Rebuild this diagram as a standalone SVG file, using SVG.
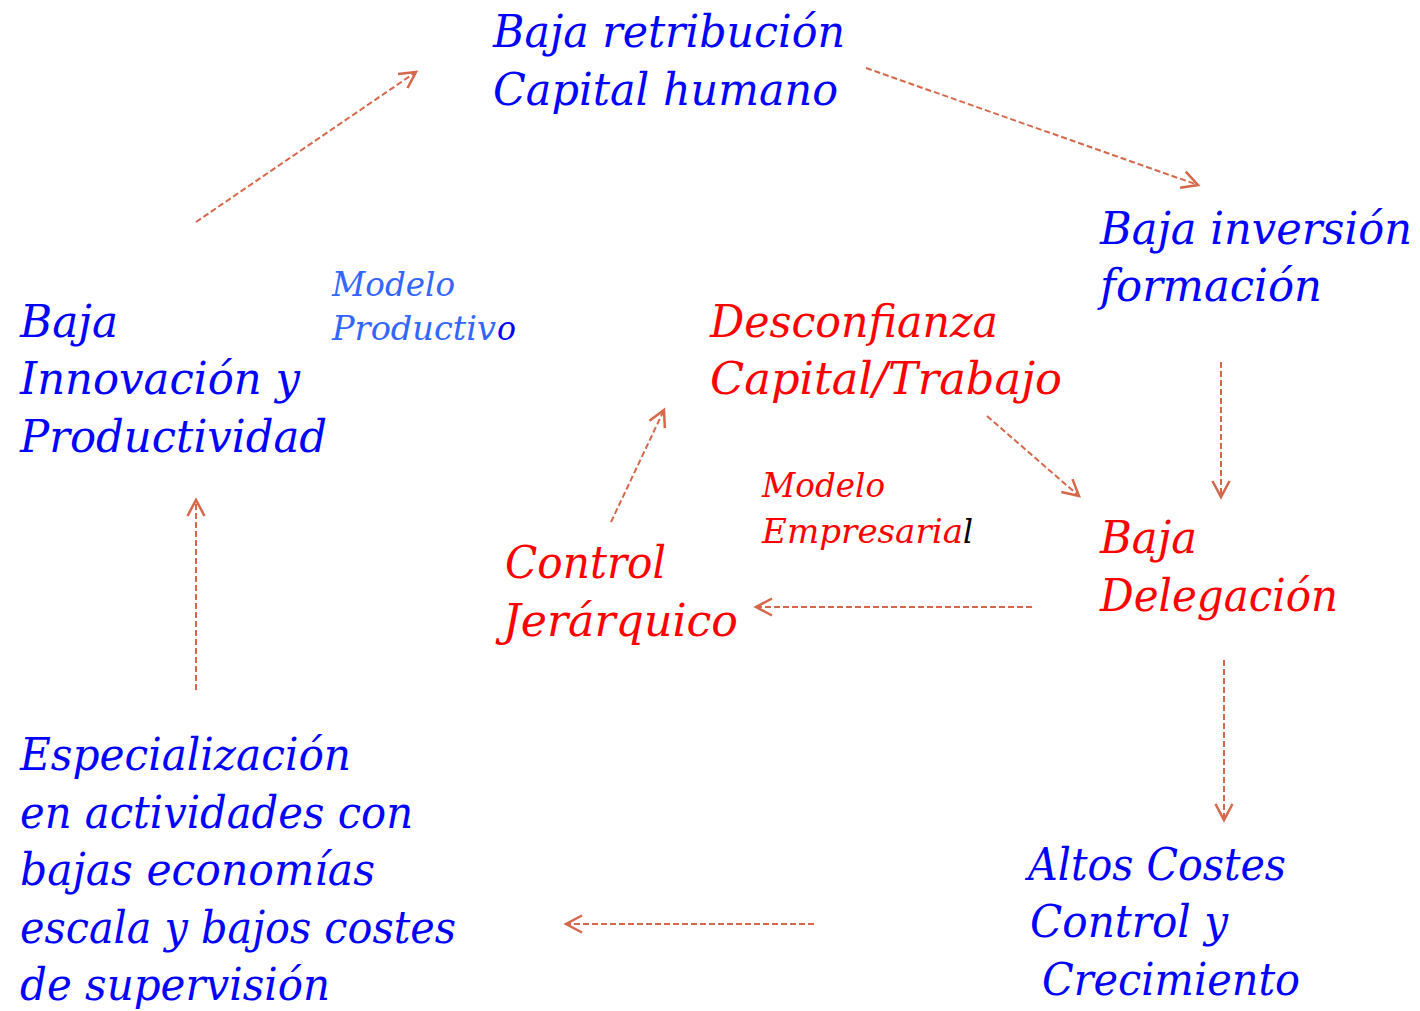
<svg xmlns="http://www.w3.org/2000/svg" width="1420" height="1011" viewBox="0 0 1420 1011">
<style>
text{font-family:"DejaVu Serif","Liberation Serif",serif;font-style:italic}
.big{font-size:44px}
.small{font-size:34px}
.blue{fill:#0000FF}
.lblue{fill:#3366FF}
.red{fill:#FF0000}
.conn{fill:none;stroke:#D5674B;stroke-width:2;stroke-dasharray:6 3}
</style>
<defs>
<marker id="ah" markerUnits="userSpaceOnUse" markerWidth="22" markerHeight="22" viewBox="0 0 22 22" refX="19" refY="11" orient="auto">
<path d="M3,2.5 L19,11 L3,19.5" fill="none" stroke="#D5674B" stroke-width="2.5"/>
</marker>
</defs>
<rect width="1420" height="1011" fill="#FFFFFF"/>
<g id="connectors">
<path class="conn" d="M196,222 L416,72" marker-end="url(#ah)"/>
<path class="conn" d="M866,68 L1198,185" marker-end="url(#ah)"/>
<path class="conn" d="M1221,362 L1221,497" marker-end="url(#ah)"/>
<path class="conn" d="M1224,660 L1224,820" marker-end="url(#ah)"/>
<path class="conn" d="M1032,607 L756,607" marker-end="url(#ah)"/>
<path class="conn" d="M814,924 L566,924" marker-end="url(#ah)"/>
<path class="conn" d="M196,690 L196,500" marker-end="url(#ah)"/>
<path class="conn" d="M611,522 L664,410" marker-end="url(#ah)"/>
<path class="conn" d="M987,416 L1079,496" marker-end="url(#ah)"/>
</g>
<g id="baja-retribucion">
<text class="big blue" x="493" y="47" textLength="352" lengthAdjust="spacingAndGlyphs">Baja retribución</text>
<text class="big blue" x="493" y="105" textLength="345" lengthAdjust="spacingAndGlyphs">Capital humano</text>
</g>
<g id="baja-inversion">
<text class="big blue" x="1100" y="244" textLength="312" lengthAdjust="spacingAndGlyphs">Baja inversión</text>
<text class="big blue" x="1100" y="301" textLength="222" lengthAdjust="spacingAndGlyphs">formación</text>
</g>
<g id="baja-innovacion">
<text class="big blue" x="20" y="337" textLength="98" lengthAdjust="spacingAndGlyphs">Baja</text>
<text class="big blue" x="20" y="394" textLength="280" lengthAdjust="spacingAndGlyphs">Innovación y</text>
<text class="big blue" x="20" y="452" textLength="307" lengthAdjust="spacingAndGlyphs">Productividad</text>
</g>
<g id="modelo-productivo">
<text class="small lblue" x="332" y="296" textLength="123" lengthAdjust="spacingAndGlyphs">Modelo</text>
<text class="small lblue" x="332" y="340" textLength="164" lengthAdjust="spacingAndGlyphs">Productiv</text>
<text class="small blue" x="497" y="340" textLength="19" lengthAdjust="spacingAndGlyphs">o</text>
</g>
<g id="desconfianza">
<text class="big red" x="710" y="337" textLength="288" lengthAdjust="spacingAndGlyphs">Desconfianza</text>
<text class="big red" x="710" y="394" textLength="352" lengthAdjust="spacingAndGlyphs">Capital/Trabajo</text>
</g>
<g id="modelo-empresarial">
<text class="small red" x="762" y="497" textLength="123" lengthAdjust="spacingAndGlyphs">Modelo</text>
<text class="small red" x="762" y="543" textLength="201" lengthAdjust="spacingAndGlyphs">Empresaria</text>
<text class="small" fill="#000000" x="963" y="543" textLength="10" lengthAdjust="spacingAndGlyphs">l</text>
</g>
<g id="control-jerarquico">
<text class="big red" x="505" y="578" textLength="161" lengthAdjust="spacingAndGlyphs">Control</text>
<text class="big red" x="503" y="636" textLength="235" lengthAdjust="spacingAndGlyphs">Jerárquico</text>
</g>
<g id="baja-delegacion">
<text class="big red" x="1100" y="553" textLength="97" lengthAdjust="spacingAndGlyphs">Baja</text>
<text class="big red" x="1100" y="611" textLength="238" lengthAdjust="spacingAndGlyphs">Delegación</text>
</g>
<g id="altos-costes">
<text class="big blue" x="1028" y="880" textLength="258" lengthAdjust="spacingAndGlyphs">Altos Costes</text>
<text class="big blue" x="1030" y="937" textLength="198" lengthAdjust="spacingAndGlyphs">Control y</text>
<text class="big blue" x="1042" y="995" textLength="258" lengthAdjust="spacingAndGlyphs">Crecimiento</text>
</g>
<g id="especializacion">
<text class="big blue" x="20" y="770" textLength="331" lengthAdjust="spacingAndGlyphs">Especialización</text>
<text class="big blue" x="20" y="828" textLength="393" lengthAdjust="spacingAndGlyphs">en actividades con</text>
<text class="big blue" x="20" y="885" textLength="355" lengthAdjust="spacingAndGlyphs">bajas economías</text>
<text class="big blue" x="20" y="943" textLength="436" lengthAdjust="spacingAndGlyphs">escala y bajos costes</text>
<text class="big blue" x="20" y="1000" textLength="310" lengthAdjust="spacingAndGlyphs">de supervisión</text>
</g>
</svg>
